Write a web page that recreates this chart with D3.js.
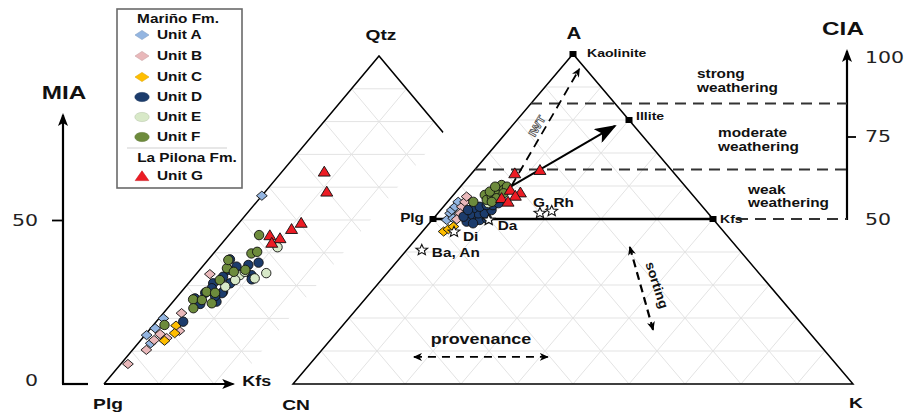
<!DOCTYPE html>
<html>
<head>
<meta charset="utf-8">
<script src="https://cdn.jsdelivr.net/npm/d3@7"></script>
<style>
body { margin: 0; background: #fff; }
text { font-family: "Liberation Sans", Arial, sans-serif; }
</style>
</head>
<body>
<svg width="907" height="418"></svg>
<script>
// ternary values are [top %, right %]; left % is the rest
// left diagram: Qtz (top) - Plg (left) - Kfs (right), top % = MIA
var miaUnitA = [[57.4,0],[20.0,0.8],[17.0,0.8],[14.9,0.3],[12.4,2.3]];
var miaUnitB = [[6.1,1.3],[10.4,2.5],[13.4,2.4],[15.2,2.6],[16.2,5.6],[21.6,3.3],[33.5,2.5],[14.0,4.4]];
var miaUnitC = [[17.8,4.2],[15.5,5.1],[13.2,4.4]];
var miaUnitD = [[38.0,3.9],[36.3,8.1],[37.0,9.6],[34.8,5.2],[32.7,5.3],[30.7,4.5],[29.2,5.0],[28.1,7.6],[30.7,7.6],[33.2,10.2],
                [31.9,10.9],[26.1,3.5],[24.4,5.3],[27.8,4.5],[25.1,7.9],[27.7,7.6],[19.0,4.9],[26.8,6.8],[35.8,6.2]];
var miaUnitE = [[41.7,10.7],[33.8,12.6],[32.2,11.3],[33.2,8.1],[31.7,8.0],[34.2,8.5],[29.7,7.2]];
var miaUnitF = [[45.4,5.5],[39.8,6.9],[40.3,7.7],[35.3,4.7],[34.2,6.5],[31.7,5.2],[28.1,4.6],[27.8,6.3],[25.8,3.3],[25.6,5.0],
                [23.1,4.7],[24.6,7.3],[18.0,2.0],[37.8,3.7],[34.8,8.3]];
var miaUnitG = [[64.7,7.7],[58.6,11.2],[49.1,11.3],[47.2,10.5],[45.3,7.5],[44.4,9.8],[43.0,9.0]];

// right diagram: A (top) - CN (left) - K (right), top % = CIA
var ciaUnitA = [[51.7,2.2],[52.7,2.0],[53.7,2.1],[55.2,1.9],[49.7,2.6],[50.2,3.5]];
var ciaUnitB = [[53.7,3.3],[55.2,3.1],[56.8,2.6],[51.7,4.0],[49.9,4.3]];
var ciaUnitC = [[46.2,3.8],[46.9,4.3],[47.7,4.8]];
var ciaUnitD = [[49.7,6.8],[50.2,7.4],[49.7,8.5],[50.2,9.5],[51.7,7.2],[51.7,8.4],[52.7,9.1],[53.2,5.6],[53.7,6.5],[54.2,7.5],
                [51.2,6.0],[49.2,6.4],[48.7,7.8],[50.7,5.1],[54.2,8.6],[54.8,9.3],[52.7,4.9]];
var ciaUnitE = [[54.8,7.5],[56.8,8.6]];
var ciaUnitF = [[60.3,7.1],[58.8,8.2],[59.8,8.3],[57.3,5.6],[55.8,6.7],[56.8,7.1],[57.8,7.2],[58.3,6.0],[56.3,8.2],[55.2,4.6],
                [57.8,8.7],[59.8,6.2],[55.2,7.9]];
var ciaUnitG = [[63.8,7.7],[64.8,11.7],[58.8,9.4],[58.0,11.6],[57.0,11.2],[56.3,9.1],[55.2,10.8]];

var unitNames = ["Unit A", "Unit B", "Unit C", "Unit D", "Unit E", "Unit F", "Unit G"];
var unitColors = ["#93b5e1", "#e9b8ba", "#ffbe00", "#1c3c6c", "#d8e9c8", "#6d8b3c", "#ec1c24"];
var unitShapes = ["diamond", "diamond", "diamond", "circle", "circle", "circle", "triangle"];

var mineralNames = ["Kaolinite", "Illite", "Kfs", "Plg"];
var mineralValues = [[100,0],[80,20],[50,50],[50,0]];
var rockNames = ["G, Rh", "G, Rh", "Da", "Di", "Ba, An"];
var rockValues = [[51.8,18.2],[52.4,20.0],[49.7,10.1],[46.1,5.7],[40.6,2.7]];

var weatheringLevels = [85, 65];
var gridSteps = d3.range(10, 100, 10);
var miaTicks = [0, 50];
var ciaTicks = [50, 75, 100];

var SX = 1.28;
var svg = d3.select("svg");

var leftTri = {
  x: d3.scaleLinear().domain([0, 100]).range([104, 654]),
  y: d3.scaleLinear().domain([0, 100]).range([384, 56])
};
var rightTri = {
  x: d3.scaleLinear().domain([0, 100]).range([293, 853]),
  y: d3.scaleLinear().domain([0, 100]).range([384, 54])
};
function proj(tri, d) { return [tri.x(d[1] + d[0] / 2), tri.y(d[0])]; }

var defs = svg.append("defs");
function marker(id, path, w, h, refX) {
  defs.append("marker").attr("id", id)
    .attr("viewBox", "0 0 " + w + " " + h)
    .attr("markerUnits", "userSpaceOnUse")
    .attr("markerWidth", w).attr("markerHeight", h)
    .attr("refX", refX).attr("refY", h / 2)
    .attr("orient", "auto-start-reverse")
    .append("path").attr("d", path).attr("fill", "#000");
}
marker("axisHead", "M0,0L13,5L0,10L3,5Z", 13, 10, 11);
marker("bigHead", "M0,0L22,8L0,16L5,8Z", 22, 16, 20);
marker("smallHead", "M0,0L9,4L0,8L2.5,4Z", 9, 8, 8);

function label(x, y, str, size, opts) {
  opts = opts || {};
  var tr = "translate(" + x + "," + y + ")";
  if (opts.rot) tr += " rotate(" + opts.rot + ")";
  tr += " scale(" + (opts.sx || SX) + ",1)";
  return svg.append("text")
    .attr("transform", tr)
    .attr("dy", "0.35em")
    .attr("text-anchor", opts.anchor || "middle")
    .style("font-size", size + "px")
    .style("font-weight", opts.normal ? "normal" : "bold")
    .style("fill", opts.fill || "#111")
    .text(str);
}

function gridLines() {
  var out = [];
  gridSteps.forEach(function(k) {
    out.push([[k, 0], [k, 100 - k]]);
    out.push([[0, k], [100 - k, k]]);
    out.push([[0, 100 - k], [100 - k, 0]]);
  });
  return out;
}
function drawGrid(tri) {
  svg.append("g").selectAll("line")
    .data(gridLines())
    .enter().append("line")
    .attr("x1", function(d) { return proj(tri, d[0])[0]; })
    .attr("y1", function(d) { return proj(tri, d[0])[1]; })
    .attr("x2", function(d) { return proj(tri, d[1])[0]; })
    .attr("y2", function(d) { return proj(tri, d[1])[1]; })
    .style("stroke", "#e3e3e3")
    .style("stroke-width", 1);
}

var line = d3.line();

// left triangle
drawGrid(leftTri);
svg.append("path")
  .attr("d", line([proj(leftTri, [0, 0]), proj(leftTri, [100, 0]), proj(leftTri, [0, 100])]))
  .style("fill", "none").style("stroke", "#000").style("stroke-width", 1.5);

// white band that hides the left triangle behind the right one
var bandShift = 65;
svg.append("path")
  .attr("d", line([[rightTri.x(0) - bandShift, 392], [rightTri.x(50) - bandShift, rightTri.y(100)],
                   [907, rightTri.y(100)], [907, 392]]) + "Z")
  .style("fill", "#fff");

// right triangle
drawGrid(rightTri);
svg.append("path")
  .attr("d", line([proj(rightTri, [0, 0]), proj(rightTri, [100, 0]), proj(rightTri, [0, 100])]) + "Z")
  .style("fill", "none").style("stroke", "#000").style("stroke-width", 1.5);

// left base arrow Plg -> Kfs
svg.append("line")
  .attr("x1", leftTri.x(0)).attr("y1", leftTri.y(0))
  .attr("x2", leftTri.x(23.5)).attr("y2", leftTri.y(0))
  .style("stroke", "#000").style("stroke-width", 1.8)
  .attr("marker-end", "url(#axisHead)");

// MIA axis
var miaX = 63;
var gM = svg.append("g").attr("transform", "translate(" + miaX + ",0)")
  .call(d3.axisLeft(leftTri.y).tickValues(miaTicks).tickSize(11).tickPadding(14));
gM.select(".domain").remove();
gM.selectAll(".tick line").filter(function(d) { return d === 0; }).remove();
gM.selectAll(".tick line").style("stroke", "#000").style("stroke-width", 1.8);
gM.selectAll(".tick text")
  .attr("x", -25 / SX).attr("transform", "scale(" + SX + ",1)")
  .style("font-family", "DejaVu Sans").style("font-size", "16px").style("fill", "#222");
gM.selectAll(".tick").filter(function(d) { return d === 0; }).select("text").attr("dy", "0.1em");
svg.append("line")
  .attr("x1", miaX).attr("y1", leftTri.y(0)).attr("x2", miaX).attr("y2", 115)
  .style("stroke", "#000").style("stroke-width", 2.2)
  .attr("marker-end", "url(#axisHead)");
svg.append("line")
  .attr("x1", miaX - 1).attr("y1", leftTri.y(0)).attr("x2", miaX + 25).attr("y2", leftTri.y(0))
  .style("stroke", "#000").style("stroke-width", 2.2);

// CIA axis
var ciaX = 847;
var gC = svg.append("g").attr("transform", "translate(" + ciaX + ",0)")
  .call(d3.axisRight(rightTri.y).tickValues(ciaTicks).tickSize(9).tickPadding(9));
gC.select(".domain").remove();
gC.selectAll(".tick line").filter(function(d) { return d !== 75; }).remove();
gC.selectAll(".tick line").style("stroke", "#000").style("stroke-width", 1.8);
gC.selectAll(".tick text")
  .attr("x", 18 / SX).attr("transform", "scale(" + SX + ",1)")
  .style("font-family", "DejaVu Sans").style("font-size", "16px").style("fill", "#222");
gC.selectAll(".tick").filter(function(d) { return d === 100; }).select("text").attr("dy", "0.55em");
svg.append("line")
  .attr("x1", ciaX).attr("y1", rightTri.y(50) + 1).attr("x2", ciaX).attr("y2", 51)
  .style("stroke", "#000").style("stroke-width", 2.2)
  .attr("marker-end", "url(#axisHead)");

// weathering limits
weatheringLevels.forEach(function(v) {
  var p = proj(rightTri, [v, 0]);
  svg.append("line")
    .attr("x1", p[0]).attr("y1", p[1]).attr("x2", ciaX).attr("y2", rightTri.y(v))
    .style("stroke", "#333").style("stroke-width", 2).style("stroke-dasharray", "11,7");
});
var kfsP = proj(rightTri, [50, 50]), plgP = proj(rightTri, [50, 0]);
svg.append("line")
  .attr("x1", kfsP[0] + 24).attr("y1", kfsP[1]).attr("x2", ciaX).attr("y2", kfsP[1])
  .style("stroke", "#333").style("stroke-width", 2).style("stroke-dasharray", "11,7");
svg.append("line")
  .attr("x1", plgP[0]).attr("y1", plgP[1]).attr("x2", kfsP[0]).attr("y2", kfsP[1])
  .style("stroke", "#000").style("stroke-width", 2.5);

// trend arrows
function arrow(pts, dashed, head, both, width) {
  var a = proj(rightTri, pts[0]), b = proj(rightTri, pts[1]);
  var l = svg.append("line")
    .attr("x1", a[0]).attr("y1", a[1]).attr("x2", b[0]).attr("y2", b[1])
    .style("stroke", "#000").style("stroke-width", width)
    .attr("marker-end", "url(#" + head + ")");
  if (dashed) l.style("stroke-dasharray", dashed);
  if (both) l.attr("marker-start", "url(#" + head + ")");
}
arrow([[60, 9], [95.5, 3.4]], "9,6", "smallHead", false, 1.8);
arrow([[59.5, 8.8], [78.2, 18.4]], null, "bigHead", false, 2);
arrow([[41.5, 39.4], [16.4, 56.1]], "8,5", "smallHead", true, 2.2);
arrow([[8.2, 17.5], [8.2, 41.4]], "8,6", "smallHead", true, 1.8);

// data points
var shapePath = {
  diamond: "M0,-4.6L5.4,0L0,4.6L-5.4,0Z",
  triangle: "M0,-5.6L6,4.3L-6,4.3Z"
};
function drawPoints(tri, sets) {
  sets.forEach(function(pts, i) {
    var g = svg.append("g");
    var sel = g.selectAll(".pt").data(pts).enter();
    if (unitShapes[i] === "circle") {
      sel.append("circle")
        .attr("cx", function(d) { return proj(tri, d)[0]; })
        .attr("cy", function(d) { return proj(tri, d)[1]; })
        .attr("r", 4.7);
    } else {
      sel.append("path")
        .attr("d", shapePath[unitShapes[i]])
        .attr("transform", function(d) { var p = proj(tri, d); return "translate(" + p[0] + "," + p[1] + ")"; });
    }
    g.selectAll("circle,path")
      .style("fill", unitColors[i]).style("stroke", "#111").style("stroke-width", 0.9);
  });
}
drawPoints(leftTri, [miaUnitA, miaUnitB, miaUnitC, miaUnitD, miaUnitE, miaUnitF, miaUnitG]);
drawPoints(rightTri, [ciaUnitA, ciaUnitB, ciaUnitC, ciaUnitD, ciaUnitE, ciaUnitF, ciaUnitG]);

// reference minerals
var mineralOffsets = [[14, -1, "start"], [7, -4, "start"], [7, 0, "start"], [-9, -1, "end"]];
mineralValues.forEach(function(v, i) {
  var p = proj(rightTri, v);
  svg.append("rect").attr("x", p[0] - 3.5).attr("y", p[1] - 3).attr("width", 7).attr("height", 6).style("fill", "#000");
  label(p[0] + mineralOffsets[i][0], p[1] + mineralOffsets[i][1], mineralNames[i], i === 3 ? 12 : 11,
        {anchor: mineralOffsets[i][2]});
});

// reference rocks
function starPath(R, r) {
  var pts = [];
  for (var i = 0; i < 10; i++) {
    var a = -Math.PI / 2 + i * Math.PI / 5, rad = i % 2 ? r : R;
    pts.push([rad * Math.cos(a) * 1.1, rad * Math.sin(a)]);
  }
  return "M" + pts.join("L") + "Z";
}
rockValues.forEach(function(v) {
  var p = proj(rightTri, v);
  svg.append("path").attr("d", starPath(5.6, 2.5))
    .attr("transform", "translate(" + p[0] + "," + p[1] + ")")
    .style("fill", "#fff").style("stroke", "#111").style("stroke-width", 1.1);
});
var rockOffsets = [[-7, -10], null, [9, 6], [9, 5], [10, 3]];
rockValues.forEach(function(v, i) {
  if (!rockOffsets[i]) return;
  var p = proj(rightTri, v);
  label(p[0] + rockOffsets[i][0], p[1] + rockOffsets[i][1], rockNames[i], 12, {anchor: "start"});
});

// vertex and axis labels
var qtzP = proj(leftTri, [100, 0]);
label(qtzP[0] + 2, qtzP[1] - 21, "Qtz", 15);
var aP = proj(rightTri, [100, 0]);
label(aP[0] + 1, aP[1] - 21, "A", 16);
label(rightTri.x(0) + 3, 405, "CN", 15);
label(rightTri.x(100) + 3, 403, "K", 15);
label(leftTri.x(0) + 4, 404, "Plg", 15);
label(leftTri.x(23.5) + 9, 381, "Kfs", 14, {anchor: "start"});
label(64, 92, "MIA", 19);
label(843, 28, "CIA", 19);

// weathering zone notes
label(697, 74, "strong", 12, {anchor: "start"});
label(697, 88, "weathering", 12, {anchor: "start"});
label(718, 133, "moderate", 12, {anchor: "start"});
label(718, 147, "weathering", 12, {anchor: "start"});
label(748, 190, "weak", 12, {anchor: "start"});
label(748, 203, "weathering", 12, {anchor: "start"});

label(481, 339, "provenance", 14);
label(657, 285, "sorting", 13, {rot: 72, sx: 1.1});
label(537, 126, "IWT", 11, {rot: -60, sx: 1.1})
  .style("fill", "#fff").style("stroke", "#444").style("stroke-width", 0.7);

// legend
var lg = svg.append("g");
lg.append("rect").attr("x", 117).attr("y", 9).attr("width", 125).attr("height", 179)
  .style("fill", "#fff").style("stroke", "#6a6a6a").style("stroke-width", 1.6);
label(178, 19, "Mariño Fm.", 12);
lg.append("line").attr("x1", 127).attr("x2", 227).attr("y1", 148).attr("y2", 148)
  .style("stroke", "#d0d0d0").style("stroke-width", 1.2);
label(187, 158, "La Pilona Fm.", 12);
var legendY = [35, 56, 77, 97, 117, 137, 176];
var legendShape = {
  diamond: "M0,-4.6L7,0L0,4.6L-7,0Z",
  triangle: "M0,-5.2L6.8,4.6L-6.8,4.6Z"
};
unitNames.forEach(function(name, i) {
  var y = legendY[i];
  if (unitShapes[i] === "circle") {
    lg.append("ellipse").attr("cx", 142).attr("cy", y).attr("rx", 7.2).attr("ry", 4.6)
      .style("fill", unitColors[i]).style("stroke", d3.color(unitColors[i]).darker(0.4)).style("stroke-width", 0.6);
  } else {
    lg.append("path").attr("d", legendShape[unitShapes[i]])
      .attr("transform", "translate(142," + y + ")")
      .style("fill", unitColors[i]).style("stroke", d3.color(unitColors[i]).darker(0.4)).style("stroke-width", 0.6);
  }
  label(157, y, name, 12, {anchor: "start"});
});
</script>
</body>
</html>
